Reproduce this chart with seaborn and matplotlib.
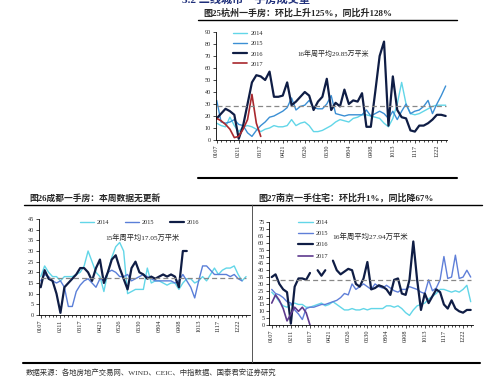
import numpy as np
import pandas as pd
import matplotlib
matplotlib.use('Agg')
import matplotlib.pyplot as plt
from matplotlib.lines import Line2D
import seaborn as sns

W, H = 499, 384

weeks = ['0107', '0211', '0317', '0421', '0526', '0630', '0804', '0908', '1013', '1117', '1222']

# 杭州 (图25)
hz_2014 = [14, 12, 11, 19, 12, 7, 11, 12, 11, 9, 7, 9, 10, 12, 11, 11, 12, 17, 12, 14, 15, 12, 7, 7, 8, 10,
           12, 15, 17, 16, 15, 18, 19, 21, 21, 20, 19, 18, 14, 11, 18, 30, 48, 30, 22, 21, 22, 24, 26, 28, 29, 29, 29]
hz_2015 = [33, 15, 14, 15, 17, 13, 12, 6, 3, 8, 12, 15, 19, 20, 22, 24, 27, 35, 25, 28, 29, 33, 27, 26, 26, 30,
           37, 22, 21, 20, 21, 21, 21, 21, 25, 20, 22, 24, 22, 18, 24, 17, 24, 30, 22, 24, 25, 28, 33, 22, 30, 37, 45]
hz_2016 = [18, 22, 26, 24, 21, 1, 12, 30, 48, 54, 53, 50, 57, 36, 36, 37, 48, 29, 32, 36, 40, 37, 25, 32, 36, 51,
           25, 31, 28, 42, 30, 33, 32, 39, 11, 11, 40, 70, 82, 12, 53, 25, 19, 18, 8, 7, 12, 12, 14, 17, 21, 21, 20]
hz_2017 = [18, 16, 13, 9, 2, 3, 9, 17, 38, 14, 3]
hz_avg = 28.5

# 成都 (图26)
cd_2014 = [18, 23, 20, 18, 18, 16, 18, 18, 18, 19, 20, 23, 30, 25, 20, 18, 11, 20, 27, 32, 34, 30, 10, 11, 12, 12,
           12, 22, 15, 16, 16, 15, 14, 15, 15, 12, 15, 17, 17, 15, 16, 18, 16, 19, 22, 19, 21, 22, 22, 23, 19, 16, 18]
cd_2015 = [16, 19, 18, 16, 15, 16, 13, 4, 4, 11, 14, 16, 17, 15, 13, 17, 16, 20, 21, 20, 18, 18, 19, 16, 17, 18,
           19, 18, 17, 16, 16, 16, 16, 16, 15, 16, 19, 16, 13, 8, 16, 23, 23, 21, 19, 19, 19, 19, 18, 19, 17, 16]
cd_2016 = [13, 21, 17, 16, 10, 1, 13, 15, 17, 19, 22, 22, 20, 16, 22, 26, 15, 20, 26, 28, 22, 17, 12, 22, 25, 20,
           19, 17, 18, 17, 18, 19, 18, 19, 18, 13, 30, 30]
cd_avg = 17.5

# 南京 (图27)
nj_2014 = [24, 21, 17, 14, 13, 15, 16, 15, 15, 13, 13, 14, 15, 16, 14, 15, 17, 15, 13, 11, 11, 12, 11, 11, 12, 11,
           12, 12, 12, 12, 14, 14, 13, 14, 12, 9, 7, 11, 14, 15, 16, 19, 21, 23, 26, 26, 25, 24, 25, 24, 26, 29, 17]
nj_2015 = [26, 23, 22, 20, 17, 16, 11, 8, 4, 12, 13, 13, 14, 15, 15, 16, 17, 18, 20, 23, 22, 30, 26, 28, 30, 28,
           26, 30, 28, 27, 29, 27, 25, 24, 26, 26, 28, 27, 26, 24, 23, 33, 25, 27, 33, 50, 34, 35, 51, 34, 35, 40, 35]
nj_2016 = [35, 37, 30, 26, 24, 1, 28, 34, 34, 33, 38, np.nan, 40, 36, 40, np.nan, 47, 40, 37, 39, 41, 40, 30, 28,
           34, 46, 26, 27, 29, 28, 26, 22, 33, 34, 23, 22, 33, 61, 33, 11, 23, 16, 21, 26, 24, 15, 12, 18, 12, 10, 9, 11, 11]
nj_2017 = [16, 22, 18, 12, 3, 8, 13, 10, 13, 9, 0]
nj_avg = 33

sns.set_theme(style='white')
plt.rcParams['font.family'] = ['Liberation Serif', 'Noto Sans CJK SC']
plt.rcParams['axes.unicode_minus'] = False

fig = plt.figure(figsize=(W / 100, H / 100), dpi=100)


def px_axes(l, t, r, b):
    return fig.add_axes([l / W, 1 - b / H, (r - l) / W, (b - t) / H])


def draw(ax, vals, color, lw, label):
    s = pd.Series(vals, dtype=float)
    df = pd.DataFrame({'week': np.arange(len(s)), 'v': s})
    ok = s.notna()
    seg = s.isna().cumsum()[ok]
    first = True
    for _, d in df[ok].groupby(seg):
        sns.lineplot(data=d, x='week', y='v', ax=ax, color=color, lw=lw, estimator=None,
                     label=label if first else None, legend=False)
        first = False


def style(ax, ymax, ystep, xlim):
    ax.set_xlim(*xlim)
    ax.set_ylim(0, ymax)
    ax.set_yticks(np.arange(0, ymax + 1, ystep))
    ax.set_xticks(np.arange(0, 51, 5))
    ax.set_xticklabels(weeks, rotation=90)
    ax.set_xticks(np.arange(0, 53), minor=True)
    ax.tick_params(axis='both', which='major', labelsize=4.5, length=2, width=0.5, direction='out',
                   color='black', pad=1.5, bottom=True, left=True)
    ax.tick_params(axis='x', which='minor', length=1.2, width=0.5, bottom=True, color='black')
    for sp in ['top', 'right']:
        ax.spines[sp].set_visible(False)
    for sp in ['left', 'bottom']:
        ax.spines[sp].set_color('black')
        ax.spines[sp].set_linewidth(0.6)
    ax.set_xlabel('')
    ax.set_ylabel('')
    ax.patch.set_alpha(0)


def leg(ax, x, y, **kw):
    h, l = ax.get_legend_handles_labels()
    ax.legend(h, l, loc='upper left', bbox_to_anchor=(x / W, 1 - y / H), bbox_transform=fig.transFigure,
              frameon=False, fontsize=4.5, borderpad=0, borderaxespad=0, handletextpad=0.5, **kw)


def fline(xs, ys, lw, color='black'):
    fig.add_artist(Line2D([x / W for x in xs], [1 - y / H for y in ys], lw=lw, color=color,
                          transform=fig.transFigure))


c14, c16 = '#62d6e8', '#0f1d45'

# top: 杭州
ax1 = px_axes(215.7, 32, 447, 140)
draw(ax1, hz_2014, c14, 1.0, '2014')
draw(ax1, hz_2015, '#3b8fd4', 1.0, '2015')
draw(ax1, hz_2016, c16, 1.6, '2016')
draw(ax1, hz_2017, '#a8282e', 1.2, '2017')
ax1.hlines(hz_avg, 0, 52, colors='#888888', linestyles=(0, (4, 2.5)), lw=0.9)
style(ax1, 90, 10, (-0.23, 52.3))
leg(ax1, 233, 31, handlelength=2.3, labelspacing=0.75)

# bottom left: 成都
ax2 = px_axes(39, 219, 250, 315)
draw(ax2, cd_2014, c14, 1.0, '2014')
draw(ax2, cd_2015, '#5a7fd8', 1.0, '2015')
draw(ax2, cd_2016, c16, 1.6, '2016')
ax2.hlines(cd_avg, 0, 52, colors='#888888', linestyles=(0, (4, 2.5)), lw=0.9)
style(ax2, 45, 5, (-0.43, 53))
leg(ax2, 80, 220, ncol=3, handlelength=2.2, columnspacing=2.5)

# bottom right: 南京
ax3 = px_axes(269.3, 222.3, 473, 325)
draw(ax3, nj_2014, c14, 1.0, '2014')
draw(ax3, nj_2015, '#5f7fd8', 1.0, '2015')
draw(ax3, nj_2016, c16, 1.6, '2016')
draw(ax3, nj_2017, '#5e3a8e', 1.2, '2017')
ax3.hlines(nj_avg, 0, 52, colors='#888888', linestyles=(0, (4, 2.5)), lw=0.9)
style(ax3, 75, 5, (-0.63, 52.6))
leg(ax3, 298, 219.5, handlelength=2.4, labelspacing=0.95)

# page texts and rules
fig.text(182 / W, 1 - 0 / H, '3.2 二线城市一手房成交量', va='center', ha='left', fontsize=8,
         fontweight='bold', color='#1f2f7a')
fig.text(203 / W, 1 - 13 / H, '图25杭州一手房：环比上升125%，同比升128%', va='center', ha='left',
         fontsize=6.5, fontweight='bold')
fig.text(297 / W, 1 - 53 / H, '16年周平均29.85万平米', va='center', ha='left', fontsize=5)
fig.text(29 / W, 1 - 198 / H, '图26成都一手房：本周数据无更新', va='center', ha='left', fontsize=6.3,
         fontweight='bold')
fig.text(105 / W, 1 - 237 / H, '15年周平均17.05万平米', va='center', ha='left', fontsize=5.2)
fig.text(258 / W, 1 - 198 / H, '图27南京一手住宅：环比升1%，同比降67%', va='center', ha='left',
         fontsize=6.5, fontweight='bold')
fig.text(332 / W, 1 - 236 / H, '16年周平均27.94万平米', va='center', ha='left', fontsize=5.3)
fig.text(26 / W, 1 - 372 / H, '数据来源：各地房地产交易网、WIND、CEIC、中指数据、国泰君安证券研究',
         va='center', ha='left', fontsize=5.3, color='#333333')

fline([198, 457], [20, 20], 1.0)
fline([198, 457], [178, 178], 1.5)
fline([24, 252], [205, 205], 1.0)
fline([252, 482], [205, 205], 1.0)
fline([23, 480], [363, 363], 1.5)
fline([252, 252], [205, 362], 0.7, '#555555')

fig.savefig('out.png', dpi=100)
